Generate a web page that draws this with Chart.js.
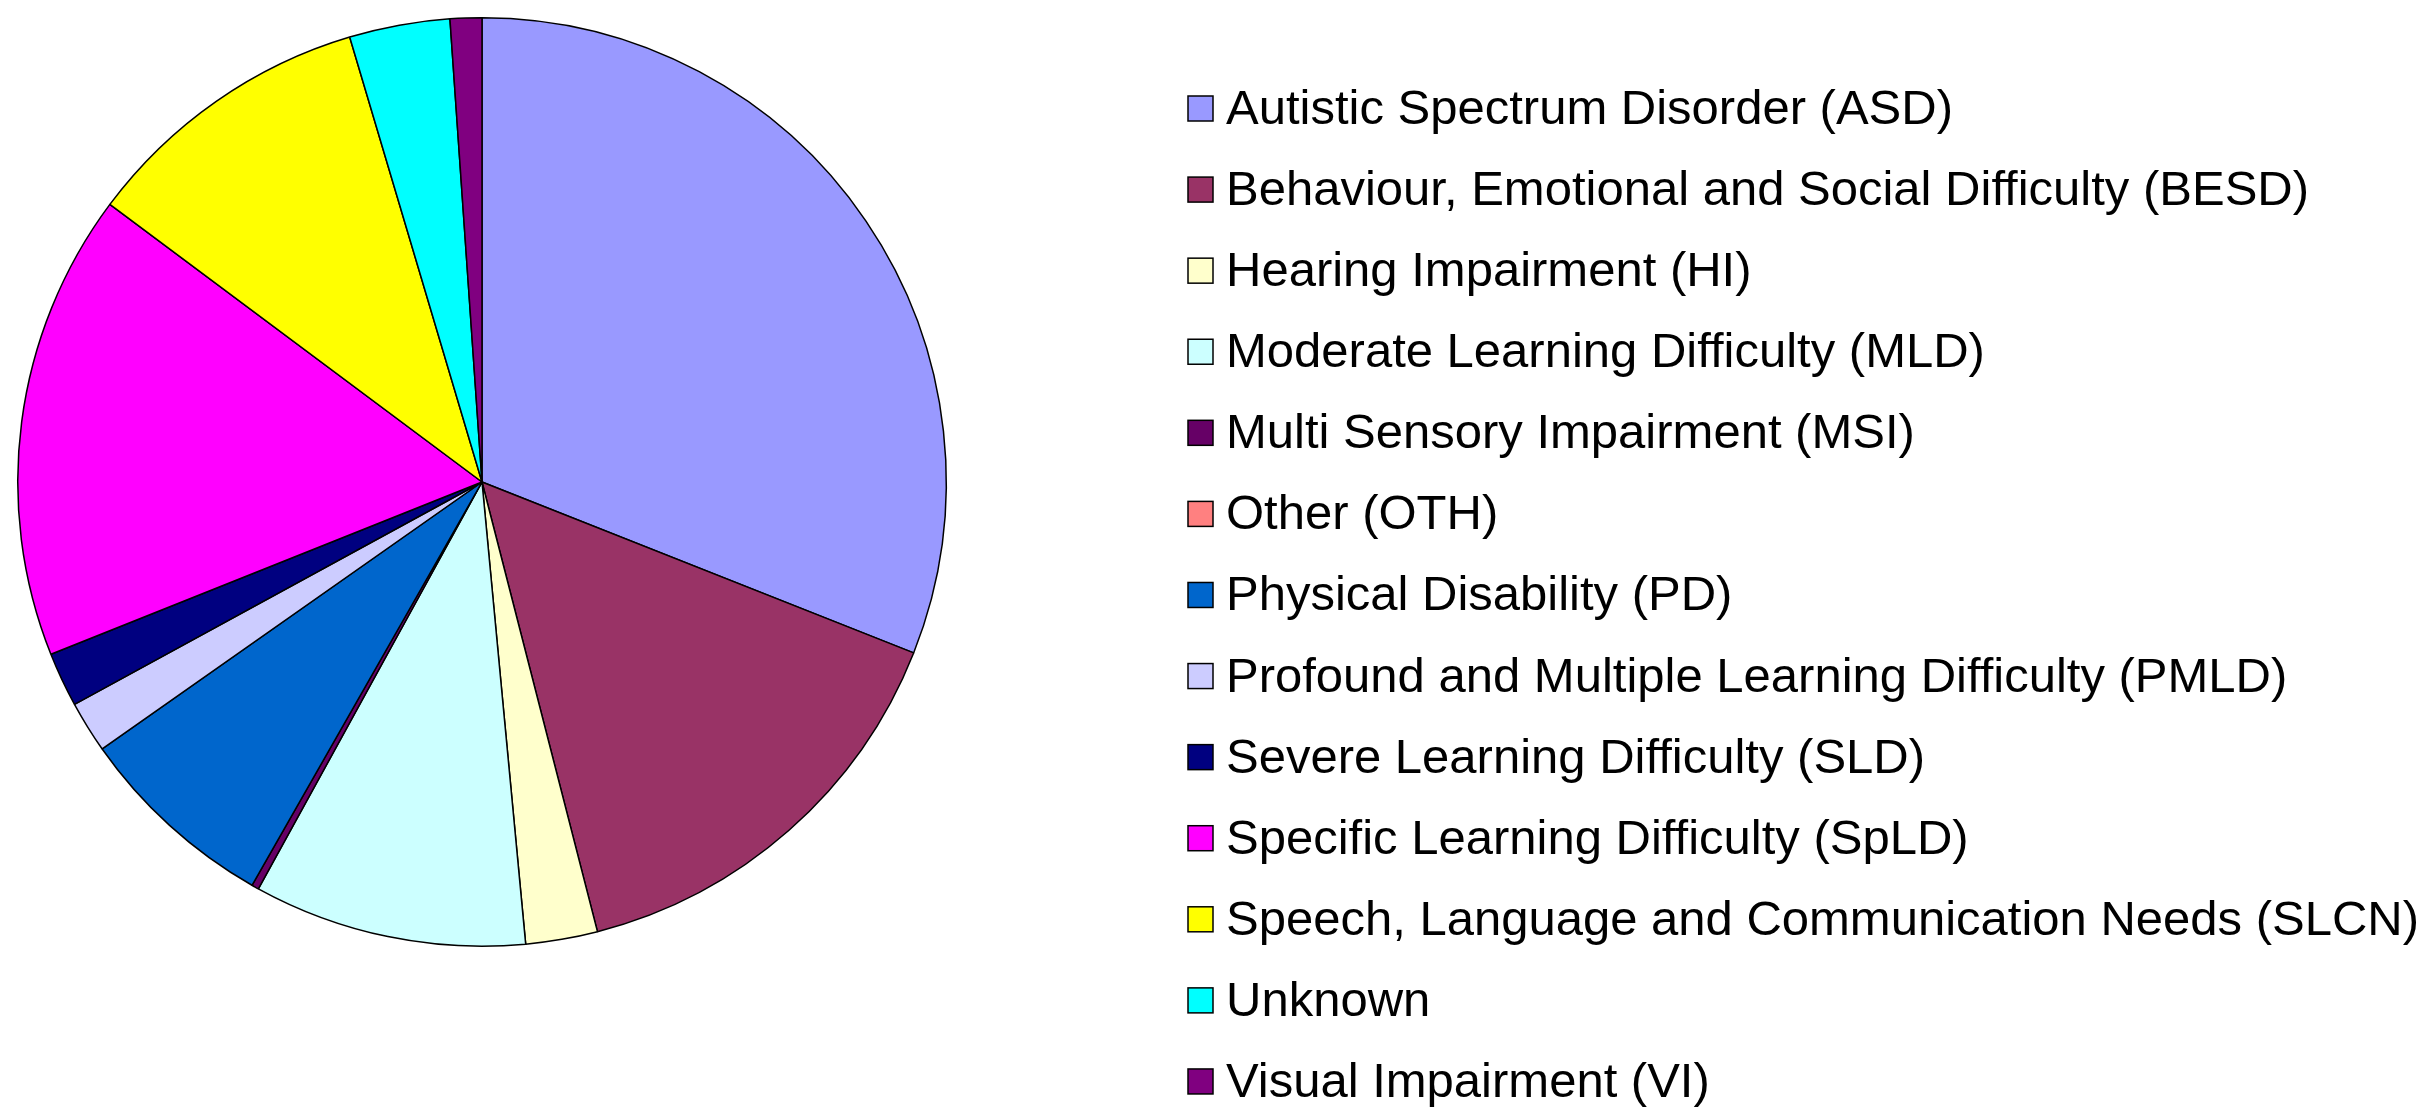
<!DOCTYPE html>
<html>
<head>
<meta charset="utf-8">
<script src="https://cdn.jsdelivr.net/npm/chart.js@4.4.1/dist/chart.umd.min.js"></script>
<style>
  html, body { margin: 0; padding: 0; background: #fff; }
  #wrap { width: 2426px; height: 1118px; }
</style>
</head>
<body>
<div id="wrap"><canvas id="pieChart" width="2426" height="1118"></canvas></div>
<script>
const labels = [
    'Autistic Spectrum Disorder (ASD)',
    'Behaviour, Emotional and Social Difficulty (BESD)',
    'Hearing Impairment (HI)',
    'Moderate Learning Difficulty (MLD)',
    'Multi Sensory Impairment (MSI)',
    'Other (OTH)',
    'Physical Disability (PD)',
    'Profound and Multiple Learning Difficulty (PMLD)',
    'Severe Learning Difficulty (SLD)',
    'Specific Learning Difficulty (SpLD)',
    'Speech, Language and Communication Needs (SLCN)',
    'Unknown',
    'Visual Impairment (VI)'
];

// share of pupils, percent
const values = [31.0, 15.0, 2.5, 9.5, 0.25, 0, 7.0, 1.8, 1.9, 16.25, 10.2, 3.5, 1.1];

const colors = [
    '#9999FF', '#993366', '#FFFFCC', '#CCFFFF', '#660066', '#FF8080', '#0066CC',
    '#CCCCFF', '#000080', '#FF00FF', '#FFFF00', '#00FFFF', '#800080'
];

// legend drawn at the right, one row per category
const sideLegend = {
    id: 'sideLegend',
    afterDraw(chart, args, opts) {
        const ctx = chart.ctx;
        const ds = chart.data.datasets[0];
        ctx.save();
        ctx.font = opts.font;
        ctx.textBaseline = 'alphabetic';
        ctx.lineWidth = 1.5;
        ctx.strokeStyle = '#000';
        chart.data.labels.forEach((label, i) => {
            const base = opts.top + i * opts.step;
            ctx.fillStyle = ds.backgroundColor[i];
            ctx.fillRect(opts.boxX, base - 28, opts.box, opts.box);
            ctx.strokeRect(opts.boxX, base - 28, opts.box, opts.box);
            ctx.fillStyle = '#000';
            ctx.fillText(label, opts.textX, base);
        });
        ctx.restore();
    }
};

const ctx = document.getElementById('pieChart').getContext('2d');

const pieChart = new Chart(ctx, {
    type: 'pie',
    data: {
        labels: labels,
        datasets: [{
            data: values,
            backgroundColor: colors,
            borderColor: '#000',
            borderWidth: 1.5
        }]
    },
    options: {
        responsive: false,
        animation: false,
        devicePixelRatio: 1,
        layout: {
            padding: { left: 17, top: 17, right: 1479, bottom: 171 }
        },
        plugins: {
            legend: { display: false },
            tooltip: { enabled: false },
            sideLegend: {
                font: '49px "Liberation Sans", Arial, sans-serif',
                top: 124,
                step: 81.08,
                boxX: 1188,
                box: 25,
                textX: 1226
            }
        }
    },
    plugins: [sideLegend]
});
</script>
</body>
</html>
